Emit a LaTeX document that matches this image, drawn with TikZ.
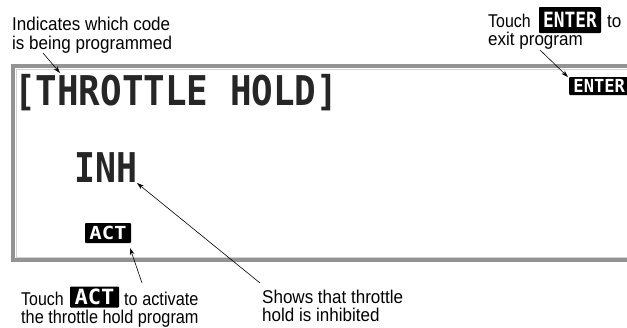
\documentclass[tikz,border=0pt]{standalone}
\usepackage{fontspec}
\setmainfont{Liberation Sans}
\newfontfamily\lcdfont{DejaVu Sans Mono}
\usetikzlibrary{arrows.meta}
% narrow set for the callout texts
\newcommand{\narrow}[2][0.92]{\scalebox{#1}[1]{#2}}
\begin{document}
\begin{tikzpicture}[x=1pt,y=-1pt,
  callout/.style={font=\fontsize{18.5}{19}\selectfont, inner sep=0pt, anchor=base west},
  lcdtext/.style={font=\lcdfont\bfseries\fontsize{41}{41}\selectfont, inner sep=0pt, anchor=base west, text=black!85},
  keycap/.style={fill=black, inner sep=0pt, rounded corners=0.8pt, text=white, font=\lcdfont\bfseries},
  pointer/.style={draw=black, line width=0.6pt, -{Stealth[length=7pt,width=4.5pt]}}]
\useasboundingbox (0,0) rectangle (627,327);
\begin{scope}
  \clip (0,0) rectangle (627,327);
  % LCD screen frame
  \draw[gray!85, line width=3.5pt] (640,66) -- (13,66) -- (13,260) -- (640,260);
  \draw[gray!35, line width=1pt] (640,69) -- (16,69) -- (16,257) -- (640,257);
  % screen contents
  \node[lcdtext] (title) at (14,105) {\scalebox{0.875}[1]{[THROTTLE HOLD]}};
  \node[lcdtext] (inh) at (74,182) {\scalebox{0.85}[1]{INH}};
  \node[keycap, minimum width=60pt, minimum height=18pt, anchor=west] (enterkey) at (569,86)
    {\fontsize{18}{18}\selectfont\scalebox{0.95}[1]{ENTER}};
  \node[keycap, minimum width=46pt, minimum height=20pt] (actkey) at (108,233)
    {\fontsize{18}{18}\selectfont\scalebox{1.15}[1]{ACT}};
\end{scope}

% callouts, top left
\node[callout] (codelbl) at (12,30) {\narrow{Indicates which code}};
\node[callout] (codelbl2) at (12,49) {\narrow{is being programmed}};
% callouts, top right
\node[callout] (touch1) at (488,27) {\narrow[0.86]{Touch}};
\node[keycap, minimum width=62pt, minimum height=26pt] (enterbtn) at (570,20)
  {\fontsize{21}{21}\selectfont\scalebox{0.85}[1]{ENTER}};
\node[callout] (to1) at (607,27) {\narrow{to}};
\node[callout] (exitlbl) at (488,45) {\narrow{exit program}};
% callouts, bottom left
\node[callout] (touch2) at (21,305) {\narrow[0.86]{Touch}};
\node[keycap, minimum width=49pt, minimum height=21pt] (actbtn) at (94.5,297)
  {\fontsize{21}{21}\selectfont\scalebox{1.05}[1]{ACT}};
\node[callout] (activlbl) at (124,305) {\narrow[0.88]{to activate}};
\node[callout] (holdlbl) at (21,323) {\narrow[0.88]{the throttle hold program}};
% callouts, bottom right
\node[callout] (inhlbl) at (262,303) {\narrow{Shows that throttle}};
\node[callout] (inhlbl2) at (262,321) {\narrow{hold is inhibited}};

% connector ends
\coordinate (codetail) at (43,53);
\coordinate (codetip) at (60,73);
\coordinate (exittail) at (540,50);
\coordinate (exittip) at (568,77);
\coordinate (inhtail) at (260,283);
\coordinate (inhtip) at (137,183);
\coordinate (acttail) at (142,283);
\coordinate (acttip) at (130,248);

\draw[pointer] (codetail) -- (codetip);
\draw[pointer] (exittail) -- (exittip);
\draw[pointer] (inhtail) -- (inhtip);
\draw[pointer] (acttail) -- (acttip);
\end{tikzpicture}
\end{document}
